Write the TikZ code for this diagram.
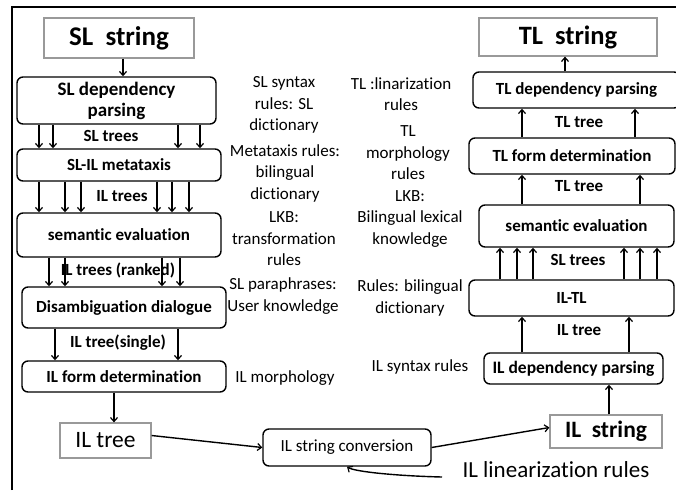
\documentclass[tikz,border=0pt]{standalone}
\usepackage{fontspec}
\setmainfont{Carlito}[Ligatures=NoCommon]
\usetikzlibrary{arrows.meta,calc}
\begin{document}
\begin{tikzpicture}[x=1pt,y=-1pt,
  arr/.style={draw=black,line width=1.4pt,-{Straight Barb[length=4pt,width=7pt,line width=1.2pt]}},
  proc/.style={draw=black,line width=1.4pt,rounded corners=6pt,fill=white,inner sep=0pt,align=center,
    font=\fontsize{17}{20}\selectfont\bfseries},
  endbox/.style={draw=black!40,line width=1.2pt,fill=white,inner sep=0pt,align=center},
  flow/.style={font=\fontsize{17}{19}\selectfont\bfseries},
  note/.style={align=center,font=\fontsize{17}{21.5}\selectfont}]
\useasboundingbox (0,0) rectangle (676,490);
% frame
\draw[line width=2pt] (12,490) -- (12,7) -- (676,7);

% ---------- source-language analysis (left column) ----------
\node[endbox,minimum width=150,minimum height=40,font=\fontsize{27}{30}\selectfont\bfseries] (slstr) at (119,38) {SL\ \ string};
\node[proc,minimum width=199,minimum height=47,font=\fontsize{19}{21}\selectfont\bfseries] (sldep) at (116.5,100.5) {SL dependency\\parsing};
\node[proc,minimum width=204,minimum height=32] (slil) at (119,165) {SL-IL metataxis};
\node[proc,minimum width=204,minimum height=44] (semL) at (119,235) {semantic evaluation};
\node[proc,minimum width=204,minimum height=41] (disamb) at (124,307.5) {Disambiguation dialogue};
\node[proc,minimum width=204,minimum height=31] (ilform) at (124,376.5) {IL form determination};
\node[endbox,minimum width=91,minimum height=35,font=\fontsize{23.5}{26}\selectfont] (iltree) at (105.5,440.5) {IL tree};

\node[flow] (lab1) at (111,136) {SL trees};
\node[flow] (lab2) at (122,196) {IL trees};
\node[flow] (lab3) at (118,270) {IL trees (ranked)};
\node[flow] (lab4) at (118,343) {IL tree(single)};

\draw[arr] ([xshift=4]slstr.south) -- ([xshift=6.5]sldep.north);
\foreach \d in {-77.5,-63.5,61.5,83.5}
  \draw[arr] ([xshift=\d]sldep.south) -- ([xshift=\d-2.5]slil.north);
\foreach \d in {-80,-54,-38,38,53,70}
  \draw[arr] ([xshift=\d]slil.south) -- ([xshift=\d]semL.north);
\foreach \a/\b in {-70/-75,-54/-59,43/38,61/56}
  \draw[arr] ([xshift=\a]semL.south) -- ([xshift=\b]disamb.north);
\foreach \d in {-69,54}
  \draw[arr] ([xshift=\d]disamb.south) -- ([xshift=\d]ilform.north);
\draw[arr] ([xshift=-10]ilform.south) -- ([xshift=8.5]iltree.north);

% ---------- rule sources (middle) ----------
\node[note] (n1) at (284,105) {SL syntax\\rules: SL\\dictionary};
\node[note] (n2) at (285,173) {Metataxis rules:\\bilingual\\dictionary};
\node[note] (n3) at (284,239) {LKB:\\transformation\\rules};
\node[note] (n4) at (283,296) {SL paraphrases:\\User knowledge};
\node[note] (n5) at (285,378) {IL morphology};

\node[note] (m1) at (401,94) {TL :linarization\\rules};
\node[note] (m2) at (408,153) {TL\\morphology\\rules};
\node[note] (m3) at (410,219) {LKB:\\Bilingual lexical\\knowledge};
\node[note] (m4) at (410,298) {Rules: bilingual\\dictionary};
\node[note] (m5) at (420,367) {IL syntax rules};

% ---------- interlingua string ----------
\node[draw=black,line width=1.4pt,rounded corners=6pt,fill=white,minimum width=168,minimum height=37,inner sep=0pt,
  font=\fontsize{17}{20}\selectfont] (conv) at (347,447.5) {IL string conversion};
\node[font=\fontsize{23}{26}\selectfont,anchor=west] (linr) at (459,470) {IL linearization rules};
\coordinate (lstart) at (442,477);
\draw[arr] (lstart) .. controls (400,476) and (355,472) .. (conv.south);
\draw[arr] ([yshift=5]iltree.east) -- (conv.west);

% ---------- target-language generation (right column) ----------
\node[endbox,minimum width=112,minimum height=33,font=\fontsize{23.5}{26}\selectfont\bfseries] (ilstr) at (606,431.5) {IL\ \ string};
\node[proc,minimum width=179,minimum height=31,font=\fontsize{17.5}{20}\selectfont\bfseries] (ildep) at (573.5,368.5) {IL dependency parsing};
\node[proc,minimum width=205,minimum height=36] (iltl) at (571.5,298) {IL-TL};
\node[proc,minimum width=195,minimum height=42] (semR) at (576.5,226) {semantic evaluation};
\node[proc,minimum width=206,minimum height=36] (tlform) at (572,156) {TL form determination};
\node[proc,minimum width=207,minimum height=36] (tldep) at (576.5,90) {TL dependency parsing};
\node[endbox,minimum width=178,minimum height=38,font=\fontsize{26.5}{30}\selectfont\bfseries] (tlstr) at (568,37) {TL\ \ string};

\node[flow] (r1) at (579,122) {TL tree};
\node[flow] (r2) at (579,186) {TL tree};
\node[flow] (r3) at (578,260) {SL trees};
\node[flow] (r4) at (579,330) {IL tree};

\draw[arr] (conv.east) -- ([yshift=4]ilstr.west);
\draw[arr] ([xshift=3]ilstr.north) -- ([xshift=35.5]ildep.south);
\foreach \a/\b in {-51.5/-49.5,55.5/57.5}
  \draw[arr] ([xshift=\a]ildep.north) -- ([xshift=\b]iltl.south);
\foreach \a/\b in {-71.5/-76.5,-54.5/-59.5,-38.5/-43.5,52.5/47.5,68.5/63.5,85.5/80.5}
  \draw[arr] ([xshift=\a]iltl.north) -- ([xshift=\b]semR.south);
\foreach \a/\b in {-54.5/-50,63.5/68}
  \draw[arr] ([xshift=\a]semR.north) -- ([xshift=\b]tlform.south);
\foreach \a/\b in {-50/-54.5,63/58.5}
  \draw[arr] ([xshift=\a]tlform.north) -- ([xshift=\b]tldep.south);
\draw[arr] ([xshift=-11.5]tldep.north) -- ([xshift=-3]tlstr.south);
\end{tikzpicture}
\end{document}
